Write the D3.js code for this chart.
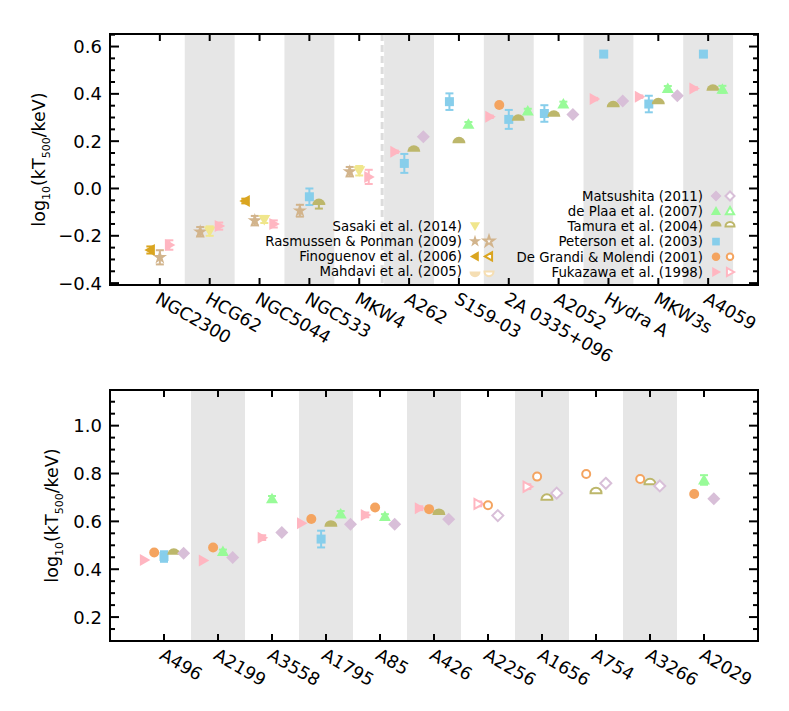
<!DOCTYPE html>
<html>
<head>
<meta charset="utf-8">
<script src="https://cdn.jsdelivr.net/npm/d3@7"></script>
<style>
  body { margin: 0; background: #fff; }
  svg text { font-family: "DejaVu Sans", sans-serif; fill: #000; }
</style>
</head>
<body>
<svg id="chart" width="789" height="711"></svg>
<script>
// series, in the order they are placed inside one cluster
var seriesNames = ["Finoguenov et al. (2006)", "Rasmussen & Ponman (2009)", "Sasaki et al. (2014)",
  "Mahdavi et al. (2005)", "Fukazawa et al. (1998)", "De Grandi & Molendi (2001)",
  "Peterson et al. (2003)", "Tamura et al. (2004)", "de Plaa et al. (2007)", "Matsushita (2011)"];
var seriesColors = ["#DAA520", "#D2B48C", "#F0E68C", "#F5DEB3", "#FFB6C1", "#F4A460",
  "#87CEEB", "#BDB76B", "#98FB98", "#D8BFD8"];
var seriesShapes = ["left", "star", "down", "bowl", "right", "circle", "square", "dome", "up", "diamond"];

// top panel: groups and cool-core clusters
var topClusters = ["NGC2300", "HCG62", "NGC5044", "NGC533", "MKW4", "A262", "S159-03",
  "2A 0335+096", "A2052", "Hydra A", "MKW3s", "A4059"];
var topFinoguenov = [-0.260, null, -0.053, null, null, null, null, null, null, null, null, null];
var topRasmussen  = [-0.291, -0.183, -0.136, -0.094, 0.071, null, null, null, null, null, null, null];
var topSasaki     = [null, -0.180, -0.131, null, 0.075, null, null, null, null, null, null, null];
var topMahdavi    = [null, null, null, null, null, null, null, null, null, null, null, null];
var topFukazawa   = [-0.239, -0.159, -0.150, null, 0.049, 0.155, null, 0.303, null, 0.378, 0.388, 0.423];
var topDeGrandi   = [null, null, null, null, null, null, null, 0.353, null, null, null, null];
var topPeterson   = [null, null, null, -0.035, null, 0.106, 0.367, 0.292, 0.317, 0.568, 0.357, 0.568];
var topTamura     = [null, null, null, -0.070, null, 0.155, 0.191, 0.286, 0.303, 0.343, 0.356, 0.413];
var topDePlaa     = [null, null, null, null, null, null, 0.271, 0.327, 0.357, null, 0.423, 0.419];
var topMatsushita = [null, null, null, null, null, 0.219, null, null, 0.313, 0.370, 0.392, null];

var topFinoguenovErr = [0.015, 0, 0.010, 0, 0, 0, 0, 0, 0, 0, 0, 0];
var topRasmussenErr  = [0.030, 0.020, 0.020, 0.025, 0.020, 0, 0, 0, 0, 0, 0, 0];
var topSasakiErr     = [0, 0.020, 0.015, 0, 0.020, 0, 0, 0, 0, 0, 0, 0];
var topMahdaviErr    = [0, 0, 0, 0, 0, 0, 0, 0, 0, 0, 0, 0];
var topFukazawaErr   = [0.020, 0.015, 0.015, 0, 0.030, 0.005, 0, 0.005, 0, 0.005, 0.005, 0.005];
var topDeGrandiErr   = [0, 0, 0, 0, 0, 0, 0, 0, 0, 0, 0, 0];
var topPetersonErr   = [0, 0, 0, 0.035, 0, 0.040, 0.035, 0.040, 0.035, 0.012, 0.035, 0.012];
var topTamuraErr     = [0, 0, 0, 0.015, 0, 0, 0, 0, 0, 0, 0, 0];
var topDePlaaErr     = [0, 0, 0, 0, 0, 0, 0.010, 0.010, 0.010, 0, 0.010, 0.015];
var topMatsushitaErr = [0, 0, 0, 0, 0, 0, 0, 0, 0, 0, 0, 0];

// bottom panel: hot clusters
var botClusters = ["A496", "A2199", "A3558", "A1795", "A85", "A426", "A2256", "A1656", "A754", "A3266", "A2029"];
var botOpen       = [false, false, false, false, false, false, true, true, true, true, false];
var botFukazawa   = [0.439, 0.436, 0.532, 0.592, 0.627, 0.655, 0.673, 0.745, null, null, null];
var botDeGrandi   = [0.470, 0.491, null, 0.610, 0.658, 0.651, 0.667, 0.787, 0.798, 0.777, 0.714];
var botPeterson   = [0.453, null, null, 0.526, null, null, null, null, null, null, null];
var botTamura     = [0.460, null, null, 0.578, null, 0.627, null, 0.690, 0.718, 0.755, null];
var botDePlaa     = [null, 0.474, 0.694, 0.631, 0.620, null, null, null, null, null, 0.773];
var botMatsushita = [0.467, 0.449, 0.553, 0.588, 0.588, 0.609, 0.624, 0.718, 0.759, 0.748, 0.694];

var botFukazawaErr   = [0, 0, 0.010, 0, 0.010, 0.008, 0.010, 0.010, 0, 0, 0];
var botDeGrandiErr   = [0, 0, 0, 0, 0, 0, 0, 0, 0, 0, 0];
var botPetersonErr   = [0.022, 0, 0, 0.035, 0, 0, 0, 0, 0, 0, 0];
var botTamuraErr     = [0, 0, 0, 0, 0, 0, 0, 0, 0, 0, 0];
var botDePlaaErr     = [0, 0.008, 0.012, 0.012, 0.010, 0, 0, 0, 0, 0, 0.020];
var botMatsushitaErr = [0, 0, 0, 0, 0, 0, 0, 0, 0, 0, 0];

var topTicks = [-0.4, -0.2, 0.0, 0.2, 0.4, 0.6];
var botTicks = [0.2, 0.4, 0.6, 0.8, 1.0];

var svg = d3.select('#chart');

function shapePath(shape, s) {
	switch (shape) {
		case 'square': return 'M' + (-s) + ',' + (-s) + 'H' + s + 'V' + s + 'H' + (-s) + 'Z';
		case 'diamond': return 'M0,' + (-s) + 'L' + s + ',0L0,' + s + 'L' + (-s) + ',0Z';
		case 'up': return 'M0,' + (-s) + 'L' + s + ',' + (s * 0.75) + 'L' + (-s) + ',' + (s * 0.75) + 'Z';
		case 'down': return 'M0,' + s + 'L' + s + ',' + (-s * 0.75) + 'L' + (-s) + ',' + (-s * 0.75) + 'Z';
		case 'left': return 'M' + (-s) + ',0L' + (s * 0.75) + ',' + (-s) + 'L' + (s * 0.75) + ',' + s + 'Z';
		case 'right': return 'M' + s + ',0L' + (-s * 0.75) + ',' + (-s) + 'L' + (-s * 0.75) + ',' + s + 'Z';
		case 'circle': return d3.symbol(d3.symbolCircle, Math.PI * s * s)();
		case 'dome': return 'M' + (-s) + ',0A' + s + ',' + s + ' 0 0 1 ' + s + ',0Z';
		case 'bowl': return 'M' + (-s) + ',0A' + s + ',' + s + ' 0 0 0 ' + s + ',0Z';
		case 'star': return d3.symbol(d3.symbolStar, s * s * 1.3)();
	}
}
var shapeSize = { square: 4.5, diamond: 6.5, up: 6, down: 6, left: 6, right: 6, circle: 5, dome: 6.5, bowl: 6.5, star: 7 };

function drawMarker(g, shape, color, x, y, open, scale) {
	var s = shapeSize[shape] * (scale || 1);
	if (open) s = s - 1;
	g.append('path')
		.attr('d', shapePath(shape, s))
		.attr('transform', 'translate(' + x + ',' + y + ')')
		.attr('fill', open ? '#fff' : color)
		.attr('stroke', open ? color : 'none')
		.attr('stroke-width', 2)
		.attr('stroke-linejoin', 'miter');
}

function drawPanel(opt) {
	var x = d3.scaleLinear().domain([0, opt.clusters.length + 1]).range([110, 758]);
	var y = d3.scaleLinear().domain(opt.domain).range([opt.bottom, opt.top]);
	var g = svg.append('g');

	// alternating grey bands
	opt.clusters.forEach(function(c, i) {
		if ((i + 1) % 2 == 0) {
			g.append('rect')
				.attr('x', x(i + 0.5)).attr('y', opt.top)
				.attr('width', x(1) - x(0)).attr('height', opt.bottom - opt.top)
				.attr('fill', '#e6e6e6');
		}
	});
	if (opt.divider) {
		g.append('line')
			.attr('x1', x(opt.divider) - 2).attr('x2', x(opt.divider) - 2)
			.attr('y1', opt.top).attr('y2', opt.bottom)
			.attr('stroke', '#dcdcdc').attr('stroke-width', 3)
			.attr('stroke-dasharray', '7,4');
	}

	// markers
	opt.clusters.forEach(function(c, i) {
		var present = [];
		opt.values.forEach(function(vals, k) {
			if (vals[i] != null) present.push(k);
		});
		present.forEach(function(k, j) {
			var cx = x(i + 1) + (j - (present.length - 1) / 2) * opt.spread;
			var v = opt.values[k][i];
			var e = opt.errors[k][i];
			var col = seriesColors[k];
			if (e > 0) {
				g.append('line').attr('x1', cx).attr('x2', cx)
					.attr('y1', y(v - e)).attr('y2', y(v + e))
					.attr('stroke', col).attr('stroke-width', 2);
				[v - e, v + e].forEach(function(w) {
					g.append('line').attr('x1', cx - 4).attr('x2', cx + 4)
						.attr('y1', y(w)).attr('y2', y(w))
						.attr('stroke', col).attr('stroke-width', 2);
				});
			}
			drawMarker(g, seriesShapes[k], col, cx, y(v), opt.open ? opt.open[i] : false);
		});
	});

	// frame
	g.append('rect')
		.attr('x', 110).attr('y', opt.top)
		.attr('width', 648).attr('height', opt.bottom - opt.top)
		.attr('fill', 'none').attr('stroke', '#000').attr('stroke-width', 2);

	// y ticks, both sides
	var minor = d3.range(Math.ceil(opt.domain[0] / 0.05) * 0.05, opt.domain[1], 0.05);
	minor.forEach(function(t) {
		var isMajor = Math.abs(Math.round(t / 0.2) * 0.2 - t) < 1e-6;
		var len = isMajor ? 9 : 5;
		g.append('line').attr('x1', 110).attr('x2', 110 + len)
			.attr('y1', y(t)).attr('y2', y(t)).attr('stroke', '#000').attr('stroke-width', 2);
		g.append('line').attr('x1', 758).attr('x2', 758 - len)
			.attr('y1', y(t)).attr('y2', y(t)).attr('stroke', '#000').attr('stroke-width', 2);
	});
	opt.ticks.forEach(function(t) {
		g.append('text')
			.attr('x', 102).attr('y', y(t))
			.attr('text-anchor', 'end').attr('dy', '0.36em')
			.style('font-size', '18px')
			.text(d3.format('.1f')(t).replace('-', '\u2212'));
	});

	// x ticks, top and bottom
	opt.clusters.forEach(function(c, i) {
		var cx = x(i + 1);
		g.append('line').attr('x1', cx).attr('x2', cx)
			.attr('y1', opt.bottom).attr('y2', opt.bottom - 7).attr('stroke', '#000').attr('stroke-width', 2);
		g.append('line').attr('x1', cx).attr('x2', cx)
			.attr('y1', opt.top).attr('y2', opt.top + 7).attr('stroke', '#000').attr('stroke-width', 2);
		g.append('text')
			.attr('transform', 'translate(' + (cx + 1) + ',' + (opt.bottom + 6) + ') rotate(30)')
			.attr('dy', '0.75em')
			.style('font-size', '17.5px')
			.text(c);
	});

	// y title
	var title = g.append('text')
		.attr('transform', 'translate(' + opt.titleX + ',' + ((opt.top + opt.bottom) / 2) + ') rotate(-90)')
		.attr('text-anchor', 'middle')
		.style('font-size', '17.5px');
	title.append('tspan').text('log');
	title.append('tspan').attr('dy', 5).style('font-size', '11px').text('10');
	title.append('tspan').attr('dy', -5).text('(kT');
	title.append('tspan').attr('dy', 5).style('font-size', '11px').text('500');
	title.append('tspan').attr('dy', -5).text('/keV)');

	return g;
}

drawPanel({
	clusters: topClusters, domain: [-0.408, 0.653], top: 34, bottom: 285, spread: 9.5,
	ticks: topTicks, titleX: 45, divider: 5.5,
	values: [topFinoguenov, topRasmussen, topSasaki, topMahdavi, topFukazawa, topDeGrandi,
		topPeterson, topTamura, topDePlaa, topMatsushita],
	errors: [topFinoguenovErr, topRasmussenErr, topSasakiErr, topMahdaviErr, topFukazawaErr, topDeGrandiErr,
		topPetersonErr, topTamuraErr, topDePlaaErr, topMatsushitaErr]
});

var none = botClusters.map(function() { return null; });
var zero = botClusters.map(function() { return 0; });
drawPanel({
	clusters: botClusters, domain: [0.10, 1.149], top: 390, bottom: 641, spread: 9.8,
	ticks: botTicks, titleX: 58, open: botOpen,
	values: [none, none, none, none, botFukazawa, botDeGrandi, botPeterson, botTamura, botDePlaa, botMatsushita],
	errors: [zero, zero, zero, zero, botFukazawaErr, botDeGrandiErr, botPetersonErr, botTamuraErr,
		botDePlaaErr, botMatsushitaErr]
});

// legends
var leftLegend = [2, 1, 0, 3];
var rightLegend = [9, 8, 7, 6, 5, 4];
var noOpen = [2, 6];

function legend(items, textX, y0) {
	items.forEach(function(k, r) {
		var yy = y0 + r * 15.2;
		svg.append('text').attr('x', textX).attr('y', yy)
			.attr('text-anchor', 'end').attr('dy', '0.36em')
			.style('font-size', '13.3px')
			.text(seriesNames[k]);
		drawMarker(svg, seriesShapes[k], seriesColors[k], textX + 13, yy, false, 0.85);
		if (noOpen.indexOf(k) < 0)
			drawMarker(svg, seriesShapes[k], seriesColors[k], textX + 27, yy, true, 0.85);
	});
}
legend(leftLegend, 462, 226);
legend(rightLegend, 703, 196);
</script>
</body>
</html>
